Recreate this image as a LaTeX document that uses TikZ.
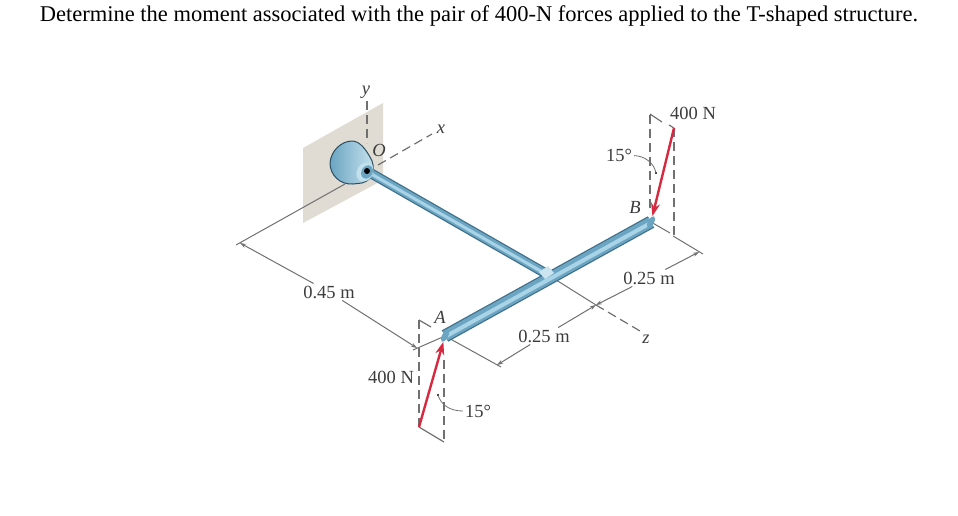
\documentclass[tikz,border=0pt]{standalone}
\usepackage{fontspec}
\setmainfont{Liberation Serif}
\usetikzlibrary{arrows.meta}
\definecolor{wallgray}{HTML}{E0DBD3}
\definecolor{forcered}{HTML}{D62A40}
\definecolor{dimgray}{HTML}{707070}
\definecolor{labelgray}{HTML}{3C3C3C}
\definecolor{rodedge}{HTML}{3F6F8A}
\definecolor{rodmid}{HTML}{6BA5C2}
\definecolor{rodlight}{HTML}{A9D3E6}
\tikzset{
    dimline/.style={dimgray, line width=1pt},
    dimarrow/.style={dimline, -{Stealth[length=6pt,width=4pt]}},
    hidden/.style={dimgray, line width=1.2pt, dash pattern=on 9pt off 5pt},
    edgeline/.style={dimgray, line width=1.2pt},
    force/.style={forcered, line width=2.4pt, shorten >=6pt, -{Stealth[length=13pt,width=9pt]}},
    label/.style={text=labelgray, font=\fontsize{18.5}{18.5}\selectfont, inner sep=2pt},
    leader/.style={dimgray, line width=0.8pt}
}
\begin{document}
\begin{tikzpicture}[x=1pt,y=-1pt]
    \useasboundingbox (0,0) rectangle (958,515);

    % Puntos
    \coordinate (O) at (367,171);
    \coordinate (J) at (545,273);
    \coordinate (A) at (445,336);
    \coordinate (B) at (651,222);
    \coordinate (xend) at (432,134);
    \coordinate (yend) at (367,101);
    \coordinate (zmid) at (596,305);
    \coordinate (zend) at (640,331);
    \coordinate (cornerL) at (240,243);
    \coordinate (cornerA) at (417,348);
    \coordinate (cornerD) at (497,365);
    \coordinate (cornerB) at (699,252);
    \coordinate (Atail) at (419,427);
    \coordinate (Btail) at (674,128);

    % Titulo
    \node (title) at (479,16) {\fontsize{22.5}{24}\selectfont Determine the moment associated with the pair of 400-N forces applied to the T-shaped structure.};

    % Pared
    \fill[wallgray] (303,148) -- (383,103) -- (383,180) -- (303,223) -- cycle;

    % Ejes
    \draw[hidden] (yend) -- (367,143);
    \draw[hidden] (378,165) -- (xend);
    \node[label] (xlabel) at (441,129) {\textit{x}};
    \node[label] (ylabel) at (366,92) {\textit{y}};
    \node[label] (zlabel) at (646,339) {\textit{z}};
    \node[label] (Olabel) at (379,150) {\textit{O}};
    \draw[dimline] (J) -- (zmid);
    \draw[hidden] (zmid) -- (zend);

    % Cotas
    \node[label] (dimL) at (329,292) {0.45 m};
    \node[label] (dimD) at (544,336) {0.25 m};
    \node[label] (dimB) at (649,278) {0.25 m};
    \draw[dimline] (345,184) -- (236,245);
    \draw[dimarrow] (dimL) -- (cornerL);
    \draw[dimarrow] (dimL) -- (cornerA);
    \draw[dimline] (413,350) -- (A);
    \draw[dimline] (A) -- (501,367);
    \draw[dimarrow] (dimD) -- (cornerD);
    \draw[dimarrow] (dimD) -- (zmid);
    \draw[dimarrow] (dimB) -- (zmid);
    \draw[dimarrow] (dimB) -- (cornerB);
    \draw[dimline] (B) -- (670,233);
    \draw[dimline] (673,236) -- (703,254);

    % Barra OJ
    \draw[rodedge, line width=10pt] (O) -- (J);
    \draw[rodmid, line width=7.5pt] (O) -- (J);
    \draw[rodlight, line width=3pt] ([yshift=-0.5pt]O) -- ([yshift=-0.5pt]J);

    % Barra AB
    \draw[rodedge, line width=13pt] (A) -- (B);
    \draw[rodmid, line width=10.5pt] (A) -- (B);
    \draw[rodlight, line width=4pt] ([yshift=-0.8pt]A) -- ([yshift=-0.8pt]B);
    \fill[rodlight!60!white] (539,272) -- (548,266) -- (554,273) -- (545,279) -- cycle;
    \fill[rodmid, rotate around={-29:(A)}] (A) ellipse (3 and 6.5);
    \fill[rodmid, rotate around={-29:(B)}] (B) ellipse (3 and 6.5);

    % Soporte
    \shade[left color=rodmid, right color=rodlight!60!white, draw=rodedge!70!black, line width=1pt]
        (353,184) .. controls (340,185) and (330,175) .. (330,163)
        .. controls (331,150) and (342,141) .. (352,141)
        .. controls (360,141) and (366,150) .. (370,157)
        .. controls (376,166) and (374,180) .. (362,183) -- cycle;
    \fill[rodlight!70!white, rotate around={-30:(365,172)}] (365,172) ellipse (8 and 10);
    \fill[rodmid, rotate around={-30:(367,172)}] (367,172) ellipse (5.5 and 7);
    \fill[black] (O) circle (3);

    % Fuerza en A
    \draw[hidden] (419,320) -- (Atail);
    \draw[hidden] (444,360) -- (444,442);
    \draw[edgeline] (419,320) -- (431,327);
    \draw[edgeline] (Atail) -- (444,442);
    \draw[force] (Atail) -- (A);
    \node[label] (forceA) at (391,377) {400 N};
    \node[label] (Alabel) at (440,317) {\textit{A}};
    \node[label] (angA) at (478,411) {15°};
    \fill[black] (438,395) circle (1.2);
    \draw[leader] (438,395) .. controls (441,405) and (450,411) .. (angA);

    % Fuerza en B
    \draw[hidden] (650,115) -- (650,213);
    \draw[hidden] (Btail) -- (674,235);
    \draw[edgeline] (650,114) -- (662,122);
    \draw[edgeline] (669,125) -- (Btail);
    \draw[force] (Btail) -- (B);
    \node[label] (forceB) at (693,113) {400 N};
    \node[label] (Blabel) at (635,207) {\textit{B}};
    \node[label] (angB) at (619,155) {15°};
    \fill[black] (656,173) circle (1.2);
    \draw[leader] (angB) .. controls (645,156) and (654,163) .. (656,173);
\end{tikzpicture}
\end{document}
